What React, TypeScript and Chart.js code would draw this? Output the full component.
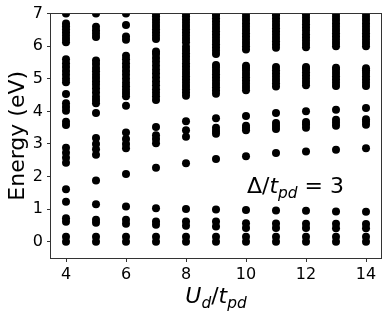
import React, { useEffect, useRef } from 'react';
import { Chart, registerables } from 'chart.js';

Chart.register(...registerables);

// Categories (U_d / t_pd values)
const uValues = [4, 5, 6, 7, 8, 9, 10, 11, 12, 13, 14];

// Energy levels (eV) read for each U_d/t_pd
const energiesU4 = [0, 0.15, 0.61, 0.72, 1.23, 1.61, 2.42, 2.58, 2.73, 2.88, 3.58, 3.68, 4.02, 4.13, 4.25, 4.53, 4.89, 5.0, 5.12, 5.24, 5.36, 5.48, 5.6, 6.12, 6.22, 6.32, 6.42, 6.52, 6.61, 6.7, 7.0];
const energiesU5 = [0, 0.15, 0.58, 0.67, 1.15, 1.88, 2.67, 2.84, 3.0, 3.18, 3.95, 4.25, 4.35, 4.45, 4.58, 4.7, 4.82, 4.92, 5.02, 5.12, 5.23, 5.33, 5.45, 5.56, 6.28, 6.38, 6.48, 6.6, 7.0];
const energiesU6 = [0, 0.15, 0.55, 0.67, 1.08, 2.08, 2.87, 3.0, 3.15, 3.35, 4.17, 4.46, 4.56, 4.66, 4.77, 4.88, 5.0, 5.12, 5.24, 5.36, 5.48, 5.6, 5.71, 6.2, 6.3, 6.65, 7.0];
const energiesU7 = [0, 0.15, 0.52, 0.62, 1.03, 2.27, 3.02, 3.15, 3.27, 3.52, 4.35, 4.46, 4.57, 4.68, 4.8, 4.92, 5.04, 5.16, 5.28, 5.4, 5.52, 5.64, 5.76, 5.84, 6.22, 6.32, 6.42, 6.52, 6.62, 6.72, 6.82, 6.92, 7.0];
const energiesU8 = [0, 0.15, 0.49, 0.62, 1.0, 2.41, 3.22, 3.42, 3.7, 4.48, 4.58, 4.68, 4.78, 4.88, 4.98, 5.08, 5.18, 5.28, 5.38, 5.48, 5.58, 5.68, 5.78, 5.88, 5.98, 6.12, 6.22, 6.32, 6.42, 6.52, 6.62, 6.72, 6.82, 6.92, 7.0];
const energiesU9 = [0, 0.15, 0.47, 0.62, 0.99, 2.54, 3.31, 3.4, 3.5, 3.79, 4.54, 4.64, 4.74, 4.84, 4.94, 5.04, 5.14, 5.24, 5.34, 5.42, 5.76, 5.86, 5.96, 6.06, 6.16, 6.26, 6.36, 6.46, 6.56, 6.66, 6.76, 6.86, 6.96, 7.0];
const energiesU10 = [0, 0.15, 0.42, 0.57, 0.97, 2.62, 3.42, 3.5, 3.56, 3.86, 4.65, 4.75, 4.85, 4.95, 5.05, 5.15, 5.25, 5.33, 5.4, 5.9, 6.0, 6.1, 6.2, 6.3, 6.4, 6.5, 6.6, 6.7, 6.8, 6.9, 7.0];
const energiesU11 = [0, 0.15, 0.42, 0.56, 0.96, 2.72, 3.46, 3.55, 3.64, 3.95, 4.76, 4.86, 4.96, 5.06, 5.16, 5.26, 5.36, 5.95, 6.05, 6.15, 6.25, 6.35, 6.45, 6.55, 6.65, 6.75, 6.85, 6.95, 7.0];
const energiesU12 = [0, 0.15, 0.42, 0.55, 0.95, 2.77, 3.5, 3.6, 3.67, 4.0, 4.8, 4.9, 5.0, 5.1, 5.2, 5.3, 5.36, 5.97, 6.07, 6.17, 6.27, 6.37, 6.47, 6.57, 6.67, 6.77, 6.87, 6.97];
const energiesU13 = [0, 0.15, 0.41, 0.55, 0.93, 2.82, 3.56, 3.65, 3.74, 4.05, 4.78, 4.88, 4.98, 5.08, 5.18, 5.28, 5.34, 6.0, 6.1, 6.2, 6.3, 6.4, 6.5, 6.6, 6.7, 6.8, 6.9, 7.0];
const energiesU14 = [0, 0.15, 0.41, 0.54, 0.92, 2.87, 3.59, 3.68, 3.76, 4.1, 4.78, 4.88, 4.98, 5.08, 5.18, 5.26, 5.32, 6.0, 6.1, 6.2, 6.3, 6.4, 6.5, 6.6, 6.7, 6.8, 6.9, 7.0];

const levelsByU = [energiesU4, energiesU5, energiesU6, energiesU7, energiesU8, energiesU9, energiesU10, energiesU11, energiesU12, energiesU13, energiesU14];

// Tick labels
const xTicks = [4, 6, 8, 10, 12, 14];
const yTicks = [0, 1, 2, 3, 4, 5, 6, 7];

const FONT = '"DejaVu Sans", "Noto Sans", sans-serif';

type Run = { t: string; italic?: boolean; sub?: boolean };

function runsWidth(ctx: CanvasRenderingContext2D, runs: Run[], size: number) {
  let w = 0;
  for (const r of runs) {
    ctx.font = `${r.italic ? 'italic ' : ''}${r.sub ? size * 0.7 : size}px ${FONT}`;
    w += ctx.measureText(r.t).width;
  }
  return w;
}

function drawRuns(ctx: CanvasRenderingContext2D, runs: Run[], left: number, baseline: number, size: number) {
  let x = left;
  ctx.textAlign = 'left';
  ctx.textBaseline = 'alphabetic';
  for (const r of runs) {
    ctx.font = `${r.italic ? 'italic ' : ''}${r.sub ? size * 0.7 : size}px ${FONT}`;
    ctx.fillText(r.t, x, baseline + (r.sub ? size * 0.24 : 0));
    x += ctx.measureText(r.t).width;
  }
}

const annotationPlugin = {
  id: 'mathLabels',
  afterDraw(chart: any) {
    const ctx: CanvasRenderingContext2D = chart.ctx;
    const area = chart.chartArea;
    ctx.save();
    // frame
    ctx.strokeStyle = '#333';
    ctx.lineWidth = 1;
    ctx.strokeRect(Math.round(area.left) - 0.5, Math.round(area.top) - 0.5, Math.round(area.right - area.left) + 1, Math.round(area.bottom - area.top) + 1);
    ctx.fillStyle = '#000';

    // annotation Δ/t_pd = 3
    const annSize = 22;
    const ann: Run[] = [
      { t: 'Δ/' },
      { t: 't', italic: true },
      { t: 'pd', italic: true, sub: true },
      { t: ' = 3' },
    ];
    drawRuns(ctx, ann, 247, 193, annSize);

    // x label U_d/t_pd
    const xs = 22;
    const xl: Run[] = [
      { t: 'U', italic: true },
      { t: 'd', italic: true, sub: true },
      { t: '/' },
      { t: 't', italic: true },
      { t: 'pd', italic: true, sub: true },
    ];
    const xw = runsWidth(ctx, xl, xs);
    drawRuns(ctx, xl, (area.left + area.right) / 2 - xw / 2, 303, xs);

    // y label
    ctx.translate(24, (area.top + area.bottom) / 2);
    ctx.rotate(-Math.PI / 2);
    ctx.font = `22px ${FONT}`;
    ctx.textAlign = 'center';
    ctx.textBaseline = 'alphabetic';
    ctx.fillText('Energy (eV)', 0, 0);
    ctx.restore();
  },
};

export default function App() {
  const ref = useRef<HTMLCanvasElement | null>(null);

  useEffect(() => {
    document.body.style.margin = '0';
    const canvas = ref.current;
    if (!canvas) return;
    const points: { x: number; y: number }[] = [];
    uValues.forEach((u, i) => {
      levelsByU[i].forEach((e) => points.push({ x: u, y: e }));
    });

    const chart = new Chart(canvas, {
      type: 'scatter',
      data: {
        datasets: [
          {
            data: points,
            backgroundColor: '#000',
            borderColor: '#000',
            borderWidth: 0,
            pointRadius: 4,
            pointHoverRadius: 4,
            clip: 0,
          } as any,
        ],
      },
      options: {
        responsive: false,
        animation: false,
        events: [],
        layout: { padding: { left: 0, top: 13, right: 9, bottom: 0 } },
        plugins: {
          legend: { display: false },
          tooltip: { enabled: false },
          title: { display: false },
        },
        scales: {
          x: {
            type: 'linear',
            min: 3.5,
            max: 14.5,
            afterBuildTicks: (scale: any) => {
              scale.ticks = xTicks.map((v) => ({ value: v }));
            },
            afterFit: (scale: any) => {
              scale.height = 61;
            },
            ticks: {
              color: '#000',
              font: { family: FONT, size: 16 },
              padding: 3,
              maxRotation: 0,
              autoSkip: false,
            },
            grid: {
              drawOnChartArea: false,
              drawTicks: true,
              tickLength: 4,
              color: '#333',
              tickColor: '#333',
            },
            border: { display: false },
          },
          y: {
            type: 'linear',
            min: -0.5,
            max: 7,
            afterBuildTicks: (scale: any) => {
              scale.ticks = yTicks.map((v) => ({ value: v }));
            },
            afterFit: (scale: any) => {
              scale.width = 51;
            },
            ticks: {
              color: '#000',
              font: { family: FONT, size: 16 },
              padding: 4,
              autoSkip: false,
            },
            grid: {
              drawOnChartArea: false,
              drawTicks: true,
              tickLength: 4,
              color: '#333',
              tickColor: '#333',
            },
            border: { display: false },
          },
        },
      },
      plugins: [annotationPlugin],
    });
    return () => chart.destroy();
  }, []);

  return (
    <div style={{ width: 390, height: 319 }}>
      <canvas ref={ref} width={390} height={319} style={{ display: 'block' }} />
    </div>
  );
}
